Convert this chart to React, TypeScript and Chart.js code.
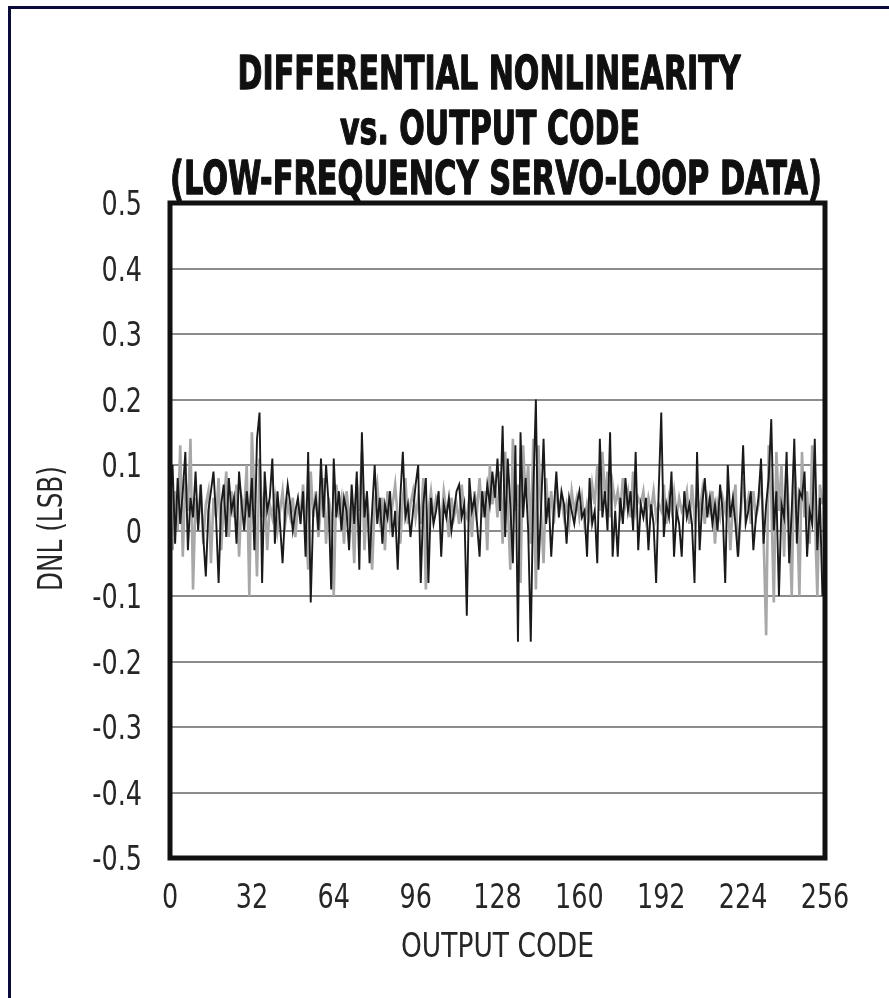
import React, { useEffect, useRef } from "react";
import { Chart, registerables } from "chart.js";

Chart.register(...registerables);

const titleLines = [
  "DIFFERENTIAL NONLINEARITY",
  "vs. OUTPUT CODE",
  "(LOW-FREQUENCY SERVO-LOOP DATA)",
];
const xAxisTitle = "OUTPUT CODE";
const yAxisTitle = "DNL (LSB)";
const xTickLabels = ["0", "32", "64", "96", "128", "160", "192", "224", "256"];
const yTickLabels = ["-0.5", "-0.4", "-0.3", "-0.2", "-0.1", "0", "0.1", "0.2", "0.3", "0.4", "0.5"];

// DNL per output code (black trace)
const dnlBlack = [
  0.04, 0.10, -0.02, 0.08, 0.01, 0.06, 0.12, -0.03, 0.05, 0.02, 0.09, 0.00, 0.07, -0.01, -0.07, 0.03,
  0.06, 0.09, 0.02, -0.08, 0.04, 0.07, -0.01, 0.08, 0.03, 0.05, -0.02, 0.09, 0.04, 0.00, 0.06, 0.02,
  0.08, -0.03, 0.14, 0.18, -0.08, 0.09, 0.03, 0.05, 0.11, -0.02, 0.06, 0.01, -0.05, 0.03, 0.07, 0.04,
  0.00, 0.03, 0.05, 0.01, 0.06, -0.04, 0.12, -0.11, 0.03, 0.05, 0.00, 0.11, 0.02, 0.10, 0.04, -0.09,
  0.11, 0.02, 0.06, 0.00, 0.05, 0.03, -0.03, 0.07, 0.01, 0.09, -0.06, 0.15, 0.02, 0.06, -0.05, 0.03,
  0.10, 0.01, 0.05, -0.02, 0.04, 0.02, 0.06, -0.01, 0.03, -0.06, 0.05, 0.12, 0.02, 0.04, -0.01, 0.03,
  0.07, 0.10, -0.08, 0.04, 0.08, -0.08, 0.05, 0.01, 0.03, 0.06, -0.04, 0.04, 0.02, 0.05, 0.00, 0.03,
  0.06, 0.07, 0.02, 0.04, -0.13, 0.08, 0.03, 0.05, 0.01, -0.04, 0.06, 0.02, 0.07, 0.04, 0.09, 0.05,
  0.11, 0.03, 0.16, -0.01, 0.11, 0.04, -0.05, 0.13, -0.17, 0.15, 0.02, 0.08, 0.00, -0.17, 0.06, 0.20,
  -0.06, 0.03, 0.14, 0.01, 0.05, -0.04, 0.03, 0.09, 0.02, 0.06, 0.04, -0.02, 0.05, 0.03, 0.01, 0.04,
  0.06, 0.02, 0.03, -0.04, 0.08, 0.01, 0.03, -0.05, 0.14, 0.02, 0.06, 0.00, 0.15, -0.04, 0.03, -0.04,
  0.05, 0.01, 0.08, 0.03, 0.06, 0.00, 0.12, -0.03, 0.04, 0.02, 0.05, -0.03, 0.04, 0.01, -0.08, 0.06,
  0.18, -0.01, 0.04, 0.02, 0.09, -0.04, 0.03, 0.01, -0.04, 0.06, 0.02, 0.04, 0.01, -0.08, 0.12, -0.03,
  0.04, 0.08, 0.02, 0.05, 0.01, 0.04, 0.00, 0.07, 0.03, -0.08, 0.10, 0.02, 0.05, 0.01, -0.04, 0.03,
  0.13, 0.01, 0.03, 0.06, -0.03, 0.02, 0.05, 0.11, -0.02, 0.04, 0.08, 0.17, 0.00, 0.06, -0.10, 0.04,
  0.02, 0.12, -0.05, 0.03, 0.14, -0.02, 0.06, 0.05, 0.09, -0.04, 0.03, 0.01, 0.14, -0.03, 0.05, -0.10,
];

// DNL per output code (gray trace)
const dnlGray = [
  0.02, -0.03, 0.06, 0.00, 0.13, -0.04, 0.08, 0.03, 0.14, -0.09, 0.05, 0.01, 0.07, -0.02, 0.04, 0.06,
  -0.05, 0.05, 0.02, 0.08, -0.03, 0.04, 0.09, -0.01, 0.06, 0.02, 0.07, -0.04, 0.05, 0.03, 0.10, -0.10,
  0.15, 0.05, -0.07, 0.11, 0.02, 0.06, -0.03, 0.04, 0.02, 0.05, 0.00, 0.03, 0.06, 0.01, 0.04, 0.02,
  0.05, -0.01, 0.04, 0.02, 0.07, 0.01, -0.06, 0.09, 0.02, 0.06, -0.01, 0.04, 0.08, -0.02, 0.05, 0.02,
  -0.10, 0.07, 0.03, 0.05, -0.02, 0.06, 0.02, 0.04, -0.05, 0.08, 0.03, 0.12, -0.03, 0.05, 0.01, -0.06,
  0.04, 0.07, 0.02, 0.05, -0.03, 0.06, 0.01, 0.04, 0.07, 0.02, -0.02, 0.05, 0.08, 0.01, 0.04, 0.06,
  0.02, 0.05, 0.01, 0.08, -0.09, 0.03, 0.06, 0.02, 0.05, 0.04, 0.01, 0.06, 0.03, -0.01, 0.05, 0.02,
  0.04, 0.01, 0.07, 0.03, 0.02, 0.05, -0.01, 0.06, 0.03, 0.08, 0.02, 0.06, -0.03, 0.10, 0.04, 0.07,
  0.02, 0.09, -0.02, 0.12, 0.04, -0.06, 0.14, 0.03, 0.07, -0.08, 0.13, 0.05, 0.10, -0.02, 0.14, -0.09,
  0.13, 0.03, -0.05, 0.08, 0.02, 0.06, 0.01, 0.07, 0.03, 0.05, 0.02, 0.04, 0.01, 0.06, 0.03, 0.05,
  0.02, 0.05, 0.01, 0.04, 0.02, 0.07, 0.04, 0.10, 0.03, 0.12, 0.05, 0.09, 0.02, 0.07, 0.04, 0.06,
  0.03, 0.08, 0.04, 0.06, 0.02, 0.09, 0.03, 0.05, 0.04, 0.06, 0.02, 0.05, 0.03, 0.06, 0.02, 0.04,
  0.03, 0.07, 0.01, 0.05, 0.03, 0.06, 0.02, 0.05, 0.03, 0.04, 0.06, 0.01, 0.07, 0.02, 0.05, 0.03,
  0.06, 0.01, 0.05, 0.03, 0.06, -0.02, 0.04, 0.02, 0.05, 0.03, 0.06, -0.03, 0.04, 0.07, -0.04, 0.02,
  0.08, 0.03, 0.05, 0.01, 0.06, 0.02, 0.04, 0.09, -0.01, -0.16, 0.13, 0.05, -0.11, 0.12, 0.03, 0.10,
  -0.04, 0.09, 0.02, -0.10, 0.11, 0.04, -0.10, 0.12, 0.02, 0.06, -0.02, 0.13, 0.03, -0.10, 0.07, 0.04,
];

const W = 889;
const H = 998;
const AREA = { left: 170, right: 825, top: 203, bottom: 858 };
const SANS = '"DejaVu Sans", sans-serif';
const TITLE_FONT = 'bold 46px "DejaVu Sans", sans-serif';
const LABEL_FONT = '34px "DejaVu Sans", sans-serif';
const TITLE_WIDTHS = [503, 300, 652];
const TITLE_CENTERS = [489, 490, 496];
const TITLE_BASELINES = [89, 144, 194];
const LABEL_SX = 0.75;
const TEXT_COLOR = "#262626";

function drawNarrow(ctx: CanvasRenderingContext2D, text: string, x: number, y: number, sx: number, align: "left" | "right" | "center") {
  ctx.save();
  ctx.translate(x, y);
  ctx.scale(sx, 1);
  ctx.textAlign = align;
  ctx.textBaseline = "alphabetic";
  ctx.fillText(text, 0, 0);
  ctx.restore();
}

const textPlugin = {
  id: "frameTextBorder",
  beforeDraw(chart: any) {
    const ctx = chart.ctx;
    ctx.save();
    ctx.fillStyle = "#ffffff";
    ctx.fillRect(0, 0, chart.width, chart.height);
    ctx.fillStyle = "#0b0b3a";
    ctx.fillRect(8, 6, 3, chart.height - 6);
    ctx.fillRect(8, 6, chart.width - 8, 3);
    ctx.restore();
  },
  afterDatasetsDraw(chart: any) {
    const { ctx, chartArea } = chart;
    ctx.save();
    ctx.strokeStyle = "#111111";
    ctx.lineWidth = 5;
    ctx.strokeRect(chartArea.left, chartArea.top, chartArea.right - chartArea.left, chartArea.bottom - chartArea.top);
    ctx.restore();
  },
  afterDraw(chart: any) {
    const { ctx, chartArea } = chart;
    const xs = chart.scales.x;
    const ys = chart.scales.y;
    ctx.save();
    // title
    ctx.font = TITLE_FONT;
    ctx.fillStyle = "#101010";
    ctx.strokeStyle = "#101010";
    ctx.lineWidth = 1.4;
    ctx.lineJoin = "round";
    titleLines.forEach((line, i) => {
      const w = ctx.measureText(line).width;
      const sx = TITLE_WIDTHS[i] / w;
      ctx.save();
      ctx.translate(TITLE_CENTERS[i], TITLE_BASELINES[i]);
      ctx.scale(sx, 1);
      ctx.textAlign = "center";
      ctx.textBaseline = "alphabetic";
      ctx.fillText(line, 0, 0);
      ctx.strokeText(line, 0, 0);
      ctx.restore();
    });
    // tick labels
    ctx.font = LABEL_FONT;
    ctx.fillStyle = TEXT_COLOR;
    const capHalf = 34 * 0.729 / 2;
    ys.ticks.forEach((t: any, i: number) => {
      const py = ys.getPixelForValue(t.value);
      drawNarrow(ctx, yTickLabels[i], chartArea.left - 28, py + capHalf, LABEL_SX, "right");
    });
    xs.ticks.forEach((t: any, i: number) => {
      const px = xs.getPixelForValue(t.value);
      drawNarrow(ctx, xTickLabels[i], px, 908, LABEL_SX, "center");
    });
    // axis titles
    drawNarrow(ctx, xAxisTitle, (chartArea.left + chartArea.right) / 2, 957, 0.78, "center");
    ctx.save();
    ctx.translate(62, (chartArea.top + chartArea.bottom) / 2 - 2);
    ctx.rotate(-Math.PI / 2);
    ctx.scale(0.75, 1);
    ctx.font = '33px "DejaVu Sans", sans-serif';
    ctx.textAlign = "center";
    ctx.textBaseline = "alphabetic";
    ctx.fillText(yAxisTitle, 0, 0);
    ctx.restore();
    ctx.restore();
  },
};

export default function App() {
  const ref = useRef<HTMLCanvasElement | null>(null);

  useEffect(() => {
    if (!ref.current) return;
    const blackPts = dnlBlack.map((v, i) => ({ x: i, y: v }));
    const grayPts = dnlGray.map((v, i) => ({ x: i, y: v }));
    const chart = new Chart(ref.current, {
      type: "line",
      data: {
        datasets: [
          {
            label: "DNL A",
            data: blackPts,
            borderColor: "#1a1a1a",
            borderWidth: 1.9,
            pointRadius: 0,
            tension: 0,
            fill: false,
          },
          {
            label: "DNL B",
            data: grayPts,
            borderColor: "#a8a8a8",
            borderWidth: 2.6,
            pointRadius: 0,
            tension: 0,
            fill: false,
          },
        ],
      },
      plugins: [textPlugin],
      options: {
        animation: false,
        responsive: false,
        maintainAspectRatio: false,
        devicePixelRatio: 1,
        layout: { padding: { left: 0, right: W - AREA.right, top: AREA.top, bottom: 0 } },
        plugins: {
          legend: { display: false },
          tooltip: { enabled: false },
          title: { display: false },
        },
        scales: {
          x: {
            type: "linear",
            min: 0,
            max: 256,
            afterFit: (s: any) => {
              s.height = H - AREA.bottom;
            },
            ticks: { stepSize: 32, autoSkip: false, display: false, font: { family: SANS } },
            grid: { display: false, drawTicks: false },
            border: { display: false },
          },
          y: {
            min: -0.5,
            max: 0.5,
            afterFit: (s: any) => {
              s.width = AREA.left;
            },
            ticks: { stepSize: 0.1, autoSkip: false, display: false, font: { family: SANS } },
            grid: { color: "#8c8c8c", lineWidth: 2, drawTicks: false },
            border: { display: false },
          },
        },
      },
    } as any);
    return () => chart.destroy();
  }, []);

  return (
    <div style={{ position: "absolute", left: 0, top: 0, width: W, height: H }}>
      <canvas ref={ref} width={W} height={H} style={{ width: W, height: H, display: "block" }} />
    </div>
  );
}
